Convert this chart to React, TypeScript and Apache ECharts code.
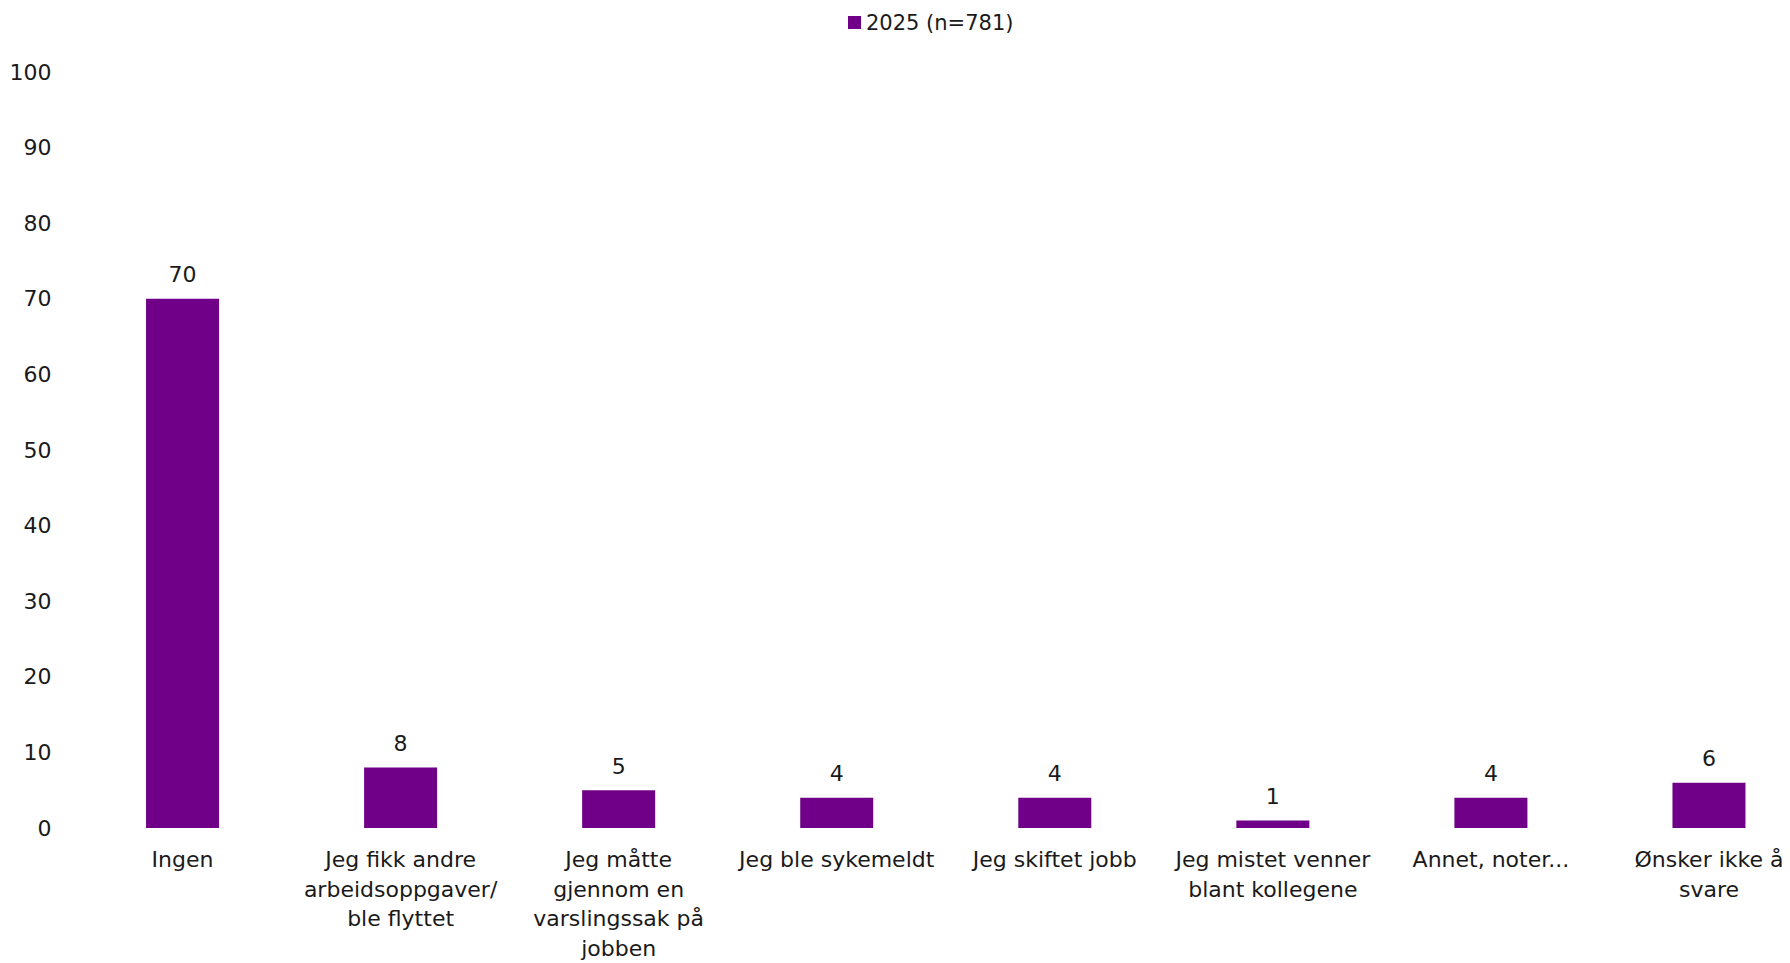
import React, { useEffect, useRef } from "react";
import * as echarts from "echarts";

const categories = [
  "Ingen",
  "Jeg fikk andre\narbeidsoppgaver/\nble flyttet",
  "Jeg måtte\ngjennom en\nvarslingssak på\njobben",
  "Jeg ble sykemeldt",
  "Jeg skiftet jobb",
  "Jeg mistet venner\nblant kollegene",
  "Annet, noter...",
  "Ønsker ikke å\nsvare",
];
const seriesName = "2025 (n=781)";
const values = [70, 8, 5, 4, 4, 1, 4, 6];
const yTicks = { min: 0, max: 100, interval: 10 };

const FONT = "DejaVu Sans";
const TEXT = "#1a1a1a";
const PURPLE = "#6f0087";

export default function App() {
  const ref = useRef<HTMLDivElement>(null);
  useEffect(() => {
    if (!ref.current) return;
    const chart = echarts.init(ref.current, undefined, { renderer: "svg" });
    chart.setOption({
      animation: false,
      textStyle: { fontFamily: FONT },
      legend: {
        data: [seriesName],
        left: 843,
        top: 7,
        itemWidth: 13,
        itemHeight: 13,
        itemGap: 6,
        icon: "rect",
        textStyle: { fontFamily: FONT, fontSize: 21, color: TEXT, padding: [0, 0, 0, 0] },
      },
      grid: { left: 73.5, right: 0, top: 72, bottom: 133, containLabel: false },
      xAxis: {
        type: "category",
        data: categories,
        axisLine: { show: false },
        axisTick: { show: false },
        axisLabel: {
          interval: 0,
          margin: 17,
          fontFamily: FONT,
          fontSize: 22,
          lineHeight: 29.5,
          color: TEXT,
          align: "center",
        },
      },
      yAxis: {
        type: "value",
        min: yTicks.min,
        max: yTicks.max,
        interval: yTicks.interval,
        splitLine: { show: false },
        axisLine: { show: false },
        axisTick: { show: false },
        axisLabel: { margin: 22, fontFamily: FONT, fontSize: 22, color: TEXT },
      },
      series: [
        {
          name: seriesName,
          type: "bar",
          data: values,
          barWidth: 73,
          itemStyle: { color: PURPLE },
          label: {
            show: true,
            position: "top",
            distance: 13,
            fontFamily: FONT,
            fontSize: 22,
            color: TEXT,
          },
        },
      ],
    });
    return () => chart.dispose();
  }, []);
  return (
    <div style={{ position: "absolute", left: 0, top: 0, width: 1790, height: 963, overflow: "hidden", background: "#fff" }}>
      <div ref={ref} style={{ position: "absolute", left: 0, top: 0, width: 1818, height: 963 }} />
    </div>
  );
}
